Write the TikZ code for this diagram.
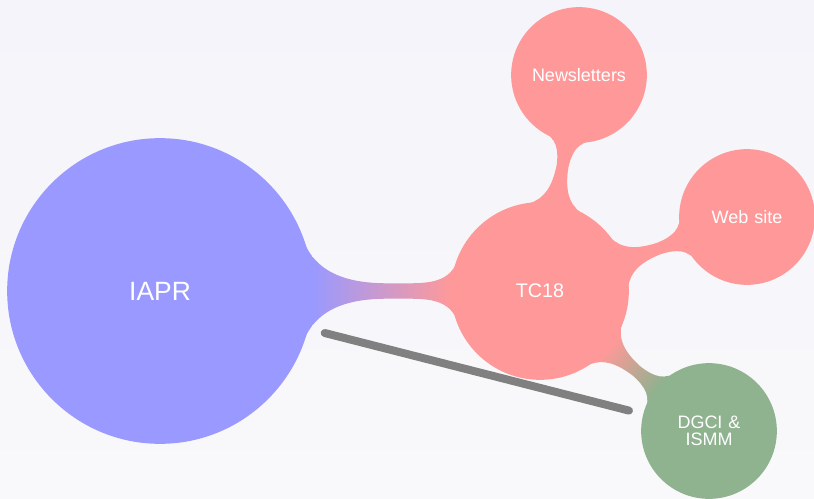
\documentclass[tikz,border=0pt]{standalone}
\usepackage{fontspec}
\setmainfont{Liberation Sans}
\usetikzlibrary{mindmap,shadings}
\definecolor{iaprc}{RGB}{153,153,255}
\definecolor{tcc}{RGB}{255,153,153}
\definecolor{dgcic}{RGB}{143,178,143}
\definecolor{bgtop}{RGB}{244,244,250}
\definecolor{bgbot}{RGB}{249,249,251}
\definecolor{linkc}{RGB}{128,128,128}
\begin{document}
\begin{tikzpicture}[mindmap, text=white,
  bigc/.style={concept, concept color=iaprc, minimum size=7.6cm, text width=6cm, inner sep=0pt, font=\fontsize{18.8}{22}\selectfont},
  midc/.style={concept, concept color=tcc, minimum size=4.4cm, text width=3cm, inner sep=0pt, font=\fontsize{14}{16}\selectfont},
  smallc/.style={concept, minimum size=3.35cm, text width=2.6cm, inner sep=0pt, font=\fontsize{12.8}{12.45}\selectfont},
  linkline/.style={draw=linkc, line width=0.2cm, line cap=round}]
\shade[top color=bgtop, bottom color=bgbot] (0,0) rectangle (20.35,-12.475);
\useasboundingbox (0,0) rectangle (20.35,-12.475);
\node[bigc] (IAPR) at (4.0,-7.275) {IAPR};
\node[midc] (TC18) at (13.5,-7.275) {TC18};
\node[smallc, concept color=tcc] (NL) at (14.475,-1.875) {Newsletters};
\node[smallc, concept color=tcc] (WEB) at (18.675,-5.425) {Web site};
\node[smallc, concept color=dgcic] (DGCI) at (17.725,-10.775) {DGCI \&\\ISMM};
\path (IAPR) to[circle connection bar switch color=from (iaprc) to (tcc)] (TC18);
\path (TC18) to[circle connection bar switch color=from (tcc) to (tcc)] (NL);
\path (TC18) to[circle connection bar switch color=from (tcc) to (tcc)] (WEB);
\path (TC18) to[circle connection bar switch color=from (tcc) to (dgcic)] (DGCI);
\draw[linkline, shorten <=0.45cm, shorten >=0.39cm] (IAPR) -- (DGCI);
\end{tikzpicture}
\end{document}
